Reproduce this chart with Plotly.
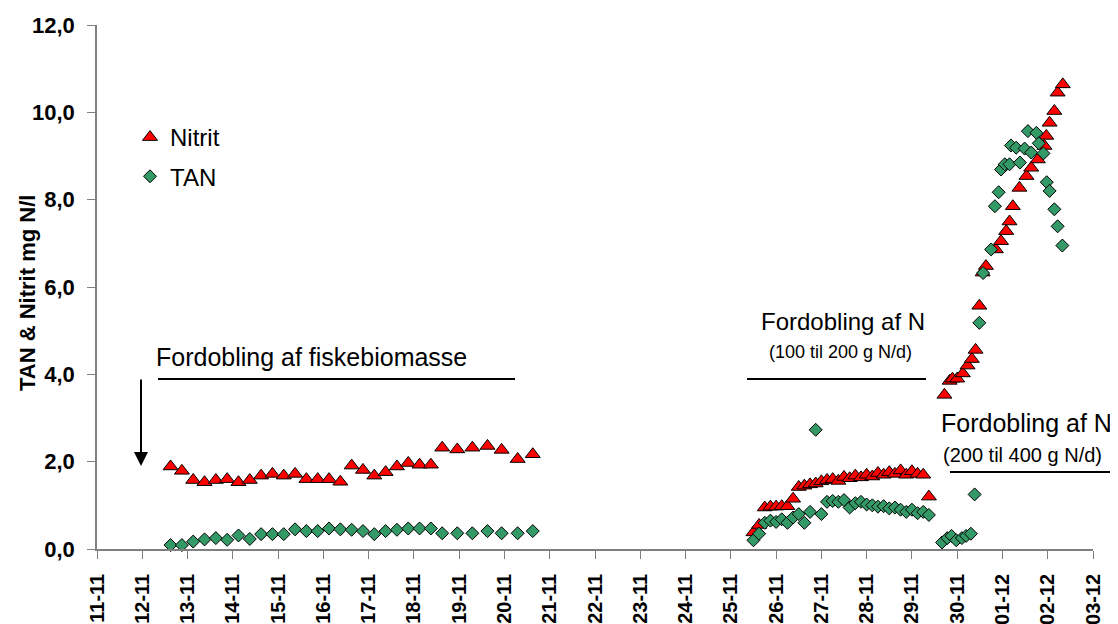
import plotly.graph_objects as go

# ---------------- data ----------------
times_period1 = [
    "2004-11-12 15:00", "2004-11-12 21:00", "2004-11-13 03:00", "2004-11-13 09:00",
    "2004-11-13 15:00", "2004-11-13 21:00", "2004-11-14 03:00", "2004-11-14 09:00",
    "2004-11-14 15:00", "2004-11-14 21:00", "2004-11-15 03:00", "2004-11-15 09:00",
    "2004-11-15 15:00", "2004-11-15 21:00", "2004-11-16 03:00", "2004-11-16 09:00",
    "2004-11-16 15:00", "2004-11-16 21:00", "2004-11-17 03:00", "2004-11-17 09:00",
    "2004-11-17 15:00", "2004-11-17 21:00", "2004-11-18 03:00", "2004-11-18 09:00",
    "2004-11-18 15:00", "2004-11-18 23:00", "2004-11-19 07:00", "2004-11-19 15:00",
    "2004-11-19 22:30", "2004-11-20 07:00", "2004-11-20 15:00",
]
nitrit_period1 = [1.89, 1.79, 1.58, 1.53, 1.58, 1.60, 1.53, 1.58, 1.68, 1.72, 1.68,
                  1.72, 1.60, 1.60, 1.60, 1.54, 1.91, 1.81, 1.68, 1.76, 1.89, 1.97,
                  1.93, 1.93, 2.32, 2.28, 2.32, 2.36, 2.27, 2.06, 2.17]
tan_period1 = [0.09, 0.09, 0.17, 0.22, 0.25, 0.21, 0.31, 0.23, 0.34, 0.34, 0.34,
               0.45, 0.41, 0.41, 0.47, 0.45, 0.44, 0.41, 0.34, 0.41, 0.44, 0.47,
               0.47, 0.47, 0.36, 0.36, 0.36, 0.41, 0.36, 0.36, 0.41]

times_period2 = [
    "2004-11-25 12:00", "2004-11-25 15:00", "2004-11-25 18:00", "2004-11-25 21:00",
    "2004-11-26 00:00", "2004-11-26 03:00", "2004-11-26 06:00", "2004-11-26 09:00",
    "2004-11-26 12:00", "2004-11-26 15:00", "2004-11-26 18:00", "2004-11-26 21:00",
    "2004-11-27 00:00", "2004-11-27 03:00", "2004-11-27 06:00", "2004-11-27 09:00",
    "2004-11-27 12:00", "2004-11-27 15:00", "2004-11-27 18:00", "2004-11-27 21:00",
    "2004-11-28 00:00", "2004-11-28 03:00", "2004-11-28 06:00", "2004-11-28 09:00",
    "2004-11-28 12:00", "2004-11-28 15:00", "2004-11-28 18:00", "2004-11-28 21:00",
    "2004-11-29 00:00", "2004-11-29 03:00", "2004-11-29 06:00", "2004-11-29 09:00",
]
nitrit_period2 = [0.38, 0.55, 0.95, 0.97, 0.97, 0.98, 0.98, 1.15, 1.42, 1.45, 1.48,
                  1.50, 1.55, 1.58, 1.60, 1.56, 1.65, 1.62, 1.68, 1.64, 1.70, 1.66,
                  1.74, 1.70, 1.76, 1.72, 1.80, 1.70, 1.78, 1.72, 1.70, 1.20]
tan_period2 = [0.20, 0.35, 0.60, 0.65, 0.62, 0.68, 0.60, 0.72, 0.80, 0.60, 0.85,
               2.73, 0.80, 1.08, 1.10, 1.08, 1.12, 0.95, 1.05, 1.08, 1.02, 1.00,
               0.97, 0.98, 0.93, 0.95, 0.90, 0.85, 0.90, 0.82, 0.85, 0.78]

nitrit_times_period3 = [
    "2004-11-29 17:15", "2004-11-29 20:00", "2004-11-29 21:30", "2004-11-30 00:00",
    "2004-11-30 03:00", "2004-11-30 05:30", "2004-11-30 07:45", "2004-11-30 09:45",
    "2004-11-30 11:45", "2004-11-30 13:30", "2004-11-30 15:15", "2004-11-30 20:30",
    "2004-11-30 23:15", "2004-12-01 02:00", "2004-12-01 03:45", "2004-12-01 05:30",
    "2004-12-01 09:00", "2004-12-01 12:45", "2004-12-01 15:15", "2004-12-01 18:45",
    "2004-12-01 22:15", "2004-12-01 23:15", "2004-12-02 01:00", "2004-12-02 03:30",
    "2004-12-02 05:15", "2004-12-02 08:00",
]
nitrit_period3 = [3.53, 3.85, 3.90, 3.90, 4.02, 4.20, 4.35, 4.56, 5.57, 6.33, 6.48,
                  6.86, 7.05, 7.28, 7.50, 7.85, 8.27, 8.54, 8.73, 8.92, 9.23, 9.46,
                  9.76, 10.03, 10.45, 10.64]

tan_times_period3 = [
    "2004-11-29 16:00", "2004-11-29 18:45", "2004-11-29 21:00", "2004-11-29 23:30",
    "2004-11-30 02:30", "2004-11-30 04:45", "2004-11-30 07:15", "2004-11-30 09:15",
    "2004-11-30 11:45", "2004-11-30 13:45", "2004-11-30 18:00", "2004-11-30 20:00",
    "2004-11-30 22:00", "2004-11-30 23:15", "2004-12-01 01:15", "2004-12-01 03:45",
    "2004-12-01 04:30", "2004-12-01 07:15", "2004-12-01 09:15", "2004-12-01 11:45",
    "2004-12-01 13:30", "2004-12-01 15:15", "2004-12-01 18:00", "2004-12-01 19:15",
    "2004-12-01 21:45", "2004-12-01 23:30", "2004-12-02 01:00", "2004-12-02 03:30",
    "2004-12-02 05:15", "2004-12-02 07:45",
]
tan_period3 = [0.15, 0.25, 0.30, 0.20, 0.25, 0.30, 0.35, 1.25, 5.18, 6.32, 6.86,
               7.85, 8.17, 8.69, 8.81, 8.81, 9.24, 9.19, 8.85, 9.17, 9.57, 9.08,
               9.53, 9.29, 9.06, 8.40, 8.20, 7.78, 7.39, 6.95]

x_range = ["2004-11-11", "2004-12-03"]
y_ticks = [0, 2, 4, 6, 8, 10, 12]

nitrit_time = times_period1 + times_period2 + nitrit_times_period3
nitrit_value = nitrit_period1 + nitrit_period2 + nitrit_period3
tan_time = times_period1 + times_period2 + tan_times_period3
tan_value = tan_period1 + tan_period2 + tan_period3

# ---------------- figure ----------------
FONT = "Arial, Liberation Sans, sans-serif"
OFF = 8                       # page body margin in the browser
W, H = 1118 - OFF, 624 - OFF
L, R, T, B = 97 - OFF, 25, 25 - OFF, 75
PW, PH = W - L - R, H - T - B
PLOT_LEFT, PLOT_BOTTOM = 97, 549   # screen pixels


def fx(p):
    return (p - PLOT_LEFT) / PW


def fy(p):
    return (PLOT_BOTTOM - p) / PH


fig = go.Figure()
fig.add_trace(go.Scatter(
    x=nitrit_time, y=nitrit_value, mode="markers", name="Nitrit",
    legendgroup="a", cliponaxis=False,
    marker=dict(symbol="triangle-up", size=13, color="#FF0000",
                line=dict(color="black", width=1)),
))
fig.add_trace(go.Scatter(
    x=tan_time, y=tan_value, mode="markers", name="TAN",
    legendgroup="b", cliponaxis=False,
    marker=dict(symbol="diamond", size=10, color="#339966",
                line=dict(color="black", width=1)),
))

axis_col = "#808080"
fig.update_xaxes(
    type="date", range=x_range, dtick=86400000, tick0="2004-11-11",
    tickformat="%d-%m", tickangle=-90, ticks="outside", ticklen=8,
    tickcolor=axis_col, showline=True, linecolor=axis_col, linewidth=1.5,
    showgrid=False, zeroline=False, ticklabelstandoff=7, automargin=False,
    tickfont=dict(family=FONT, size=20, color="black", weight="bold"),
)
fig.update_yaxes(
    range=[0, 12], tickvals=y_ticks, tickformat=".1f", ticks="outside",
    ticklen=8, tickcolor=axis_col, showline=True, linecolor=axis_col,
    linewidth=1.5, showgrid=False, zeroline=False, ticklabelstandoff=8,
    automargin=False,
    tickfont=dict(family=FONT, size=22, color="black", weight="bold"),
)

annotations = [
    dict(text="TAN & Nitrit mg N/l", x=fx(27), y=fy(293), textangle=-90,
         font=dict(family=FONT, size=22, color="black", weight="bold")),
    dict(text="Fordobling af fiskebiomasse", x=fx(154), y=fy(357), xanchor="left",
         font=dict(family=FONT, size=25, color="black")),
    dict(text="Fordobling af N", x=fx(759), y=fy(322), xanchor="left",
         font=dict(family=FONT, size=24, color="black")),
    dict(text="(100 til 200 g N/d)", x=fx(767), y=fy(352), xanchor="left",
         font=dict(family=FONT, size=18, color="black")),
    dict(text="Fordobling af N", x=fx(939), y=fy(423), xanchor="left",
         font=dict(family=FONT, size=25, color="black")),
    dict(text="(200 til 400 g N/d)", x=fx(941), y=fy(455), xanchor="left",
         font=dict(family=FONT, size=20, color="black")),
]
for a in annotations:
    a.update(xref="paper", yref="paper", showarrow=False, yanchor="middle")
    a.setdefault("xanchor", "center")

annotations.append(dict(
    x=fx(141), y=fy(466), xref="paper", yref="paper", ax=0, ay=-88,
    showarrow=True, arrowhead=2, arrowsize=1.4, arrowwidth=2,
    arrowcolor="black", text="",
))

shapes = [
    dict(type="line", xref="paper", yref="paper", x0=fx(158), x1=fx(515),
         y0=fy(379), y1=fy(379), line=dict(color="black", width=2)),
    dict(type="line", xref="paper", yref="paper", x0=fx(747), x1=fx(926),
         y0=fy(379), y1=fy(379), line=dict(color="black", width=2)),
    dict(type="line", xref="paper", yref="paper", x0=fx(950), x1=fx(1118),
         y0=fy(472), y1=fy(472), line=dict(color="black", width=2)),
]

fig.update_layout(
    width=W, height=H, margin=dict(l=L, r=R, t=T, b=B, autoexpand=False),
    plot_bgcolor="white", paper_bgcolor="white", separators=",.",
    font=dict(family=FONT, color="black"),
    annotations=annotations, shapes=shapes,
    showlegend=True,
    legend=dict(x=fx(130), y=fy(115), xanchor="left", yanchor="top",
                bgcolor="rgba(0,0,0,0)", traceorder="grouped",
                tracegroupgap=5, itemwidth=30,
                font=dict(family=FONT, size=24, color="black")),
)

fig.write_html("out.html")
